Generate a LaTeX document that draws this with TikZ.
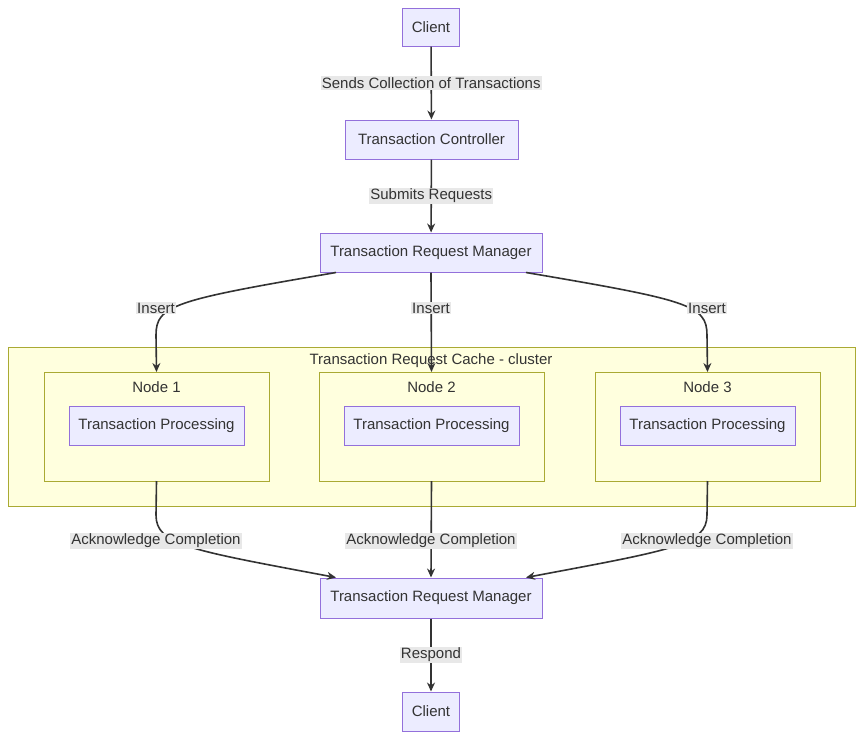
\documentclass[tikz,border=0pt]{standalone}
\usepackage{fontspec}
\setmainfont{Liberation Sans}
\usetikzlibrary{arrows.meta}
\definecolor{nfill}{HTML}{ECECFF}
\definecolor{nbord}{HTML}{9370DB}
\definecolor{cfill}{HTML}{FFFFDE}
\definecolor{cbord}{HTML}{AAAA33}
\definecolor{txt}{HTML}{333333}
\definecolor{lbg}{HTML}{E8E8E8}
\begin{document}
\begin{tikzpicture}[x=1pt,y=-1pt,
  box/.style={draw=nbord,fill=nfill,line width=1pt,text=txt,font=\fontsize{15}{17}\selectfont,inner sep=0pt,anchor=center},
  clus/.style={draw=cbord,fill=cfill,line width=1pt},
  ctext/.style={text=txt,font=\fontsize{15}{17}\selectfont},
  lab/.style={fill=lbg,text=txt,font=\fontsize{15}{17}\selectfont,inner sep=1pt},
  edge/.style={draw=txt,line width=1.6pt,-{Stealth[length=9pt,width=8pt]}}]
\useasboundingbox (0,0) rectangle (863,740);
\node[box,minimum width=57,minimum height=38] (c1) at (431,27) {Client};
\node[box,minimum width=173,minimum height=39] (tc) at (431.5,139.5) {Transaction Controller};
\node[box,minimum width=222,minimum height=39] (m1) at (431,252.5) {Transaction Request Manager};
\draw[clus] (8,347) rectangle (855,506);
\node[ctext] (cl) at (431,361) {Transaction Request Cache - cluster};
\foreach \n/\x in {1/156.5,2/431.5,3/707.5}{
  \draw[clus] (\x-112.5,372) rectangle (\x+112.5,481);
  \node[ctext] (nl\n) at (\x,387) {Node \n};
  \node[box,minimum width=175,minimum height=39] (p\n) at (\x,425.5) {Transaction Processing};
  \coordinate (nt\n) at (\x,372);
  \coordinate (nb\n) at (\x,481);
}
\node[box,minimum width=222,minimum height=40] (m2) at (431,598) {Transaction Request Manager};
\node[box,minimum width=57,minimum height=39] (c2) at (431,711.5) {Client};
\draw[edge] (c1) -- node[lab]{Sends Collection of Transactions} (tc);
\draw[edge] (tc) -- node[lab]{Submits Requests} (m1);
\draw[edge] (m1.south) -- (nt2);
\node[lab] at (431,308) {Insert};
\draw[edge] ([xshift=-95]m1.south) .. controls (175,300) and (156,305) .. (156,335) -- (nt1);
\node[lab] at (156,308) {Insert};
\draw[edge] ([xshift=95]m1.south) .. controls (688,300) and (707,305) .. (707,335) -- (nt3);
\node[lab] at (707,308) {Insert};
\draw[edge] (nb2) -- (m2.north);
\node[lab] at (431,541) {Acknowledge Completion};
\draw[edge] (nb1) -- (156,515) .. controls (156,545) and (190,550) .. ([xshift=-95]m2.north);
\node[lab] at (156,541) {Acknowledge Completion};
\draw[edge] (nb3) -- (707,515) .. controls (707,545) and (672,550) .. ([xshift=95]m2.north);
\node[lab] at (707,541) {Acknowledge Completion};
\draw[edge] (m2) -- node[lab]{Respond} (c2);
\end{tikzpicture}
\end{document}
